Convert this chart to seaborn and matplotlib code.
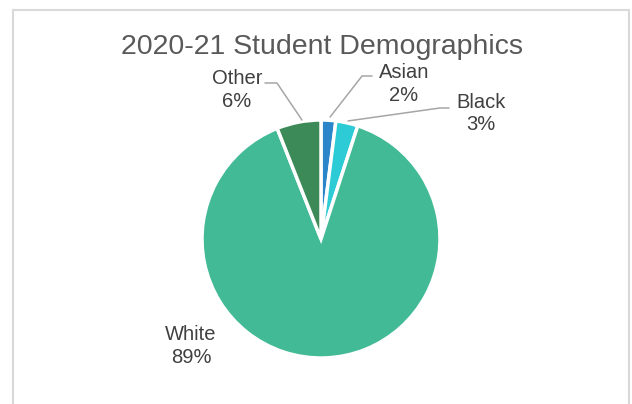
import matplotlib
matplotlib.use("Agg")
import matplotlib.pyplot as plt
import seaborn as sns
from matplotlib.patches import Rectangle
from matplotlib.lines import Line2D

categories = ["Asian", "Black", "White", "Other"]
values = [2, 3, 89, 6]
pct_labels = ["2%", "3%", "89%", "6%"]
colors = ["#2A86C8", "#2DCBD6", "#42BA96", "#3C8A58"]
title = "2020-21 Student Demographics"

sns.set_theme(style="white")
plt.rcParams['font.family'] = ['Liberation Sans', 'DejaVu Sans']

W, H = 632, 404
fig = plt.figure(figsize=(W / 100, H / 100), dpi=100)

# chart border
fig.add_artist(Rectangle((13 / W, -0.05), (629 - 13) / W, (H - 10) / H + 0.05,
                         transform=fig.transFigure, fill=False,
                         edgecolor="#D9D9D9", linewidth=1.5))

cx, cy, r = 321, 239, 119
ax = fig.add_axes([(cx - r) / W, (H - cy - r) / H, 2 * r / W, 2 * r / H])
ax.pie(values, colors=colors, startangle=90, counterclock=False, radius=1,
       wedgeprops=dict(edgecolor="white", linewidth=2.5))
ax.set_xlim(-1, 1)
ax.set_ylim(-1, 1)
ax.set_aspect("auto")
ax.axis("off")

fig.text(0.5 * (120 + 524) / W, 1 - 47 / H, title, ha="center", va="center",
         fontsize=20.5, color="#595959")

# label positions (pie-radius units) and leader lines
label_pos = {"Asian": (0.697, 1.303), "Black": (1.345, 1.055),
             "White": (-1.092, -0.899), "Other": (-0.706, 1.252)}
leaders = {"Asian": [(0.076, 1.025), (0.345, 1.370), (0.429, 1.370)],
           "Black": [(0.227, 0.992), (1.0, 1.101), (1.076, 1.101)],
           "Other": [(-0.160, 1.0), (-0.370, 1.311), (-0.471, 1.311)]}

for cat, pct in zip(categories, pct_labels):
    x, y = label_pos[cat]
    ax.text(x, y, f"{cat}\n{pct}", ha="center", va="center", fontsize=14.5,
            color="#404040", linespacing=1.25, clip_on=False)
    if cat in leaders:
        xs, ys = zip(*leaders[cat])
        ax.add_line(Line2D(xs, ys, color="#A6A6A6", linewidth=1.1, clip_on=False))

fig.savefig("out.png", dpi=100)
